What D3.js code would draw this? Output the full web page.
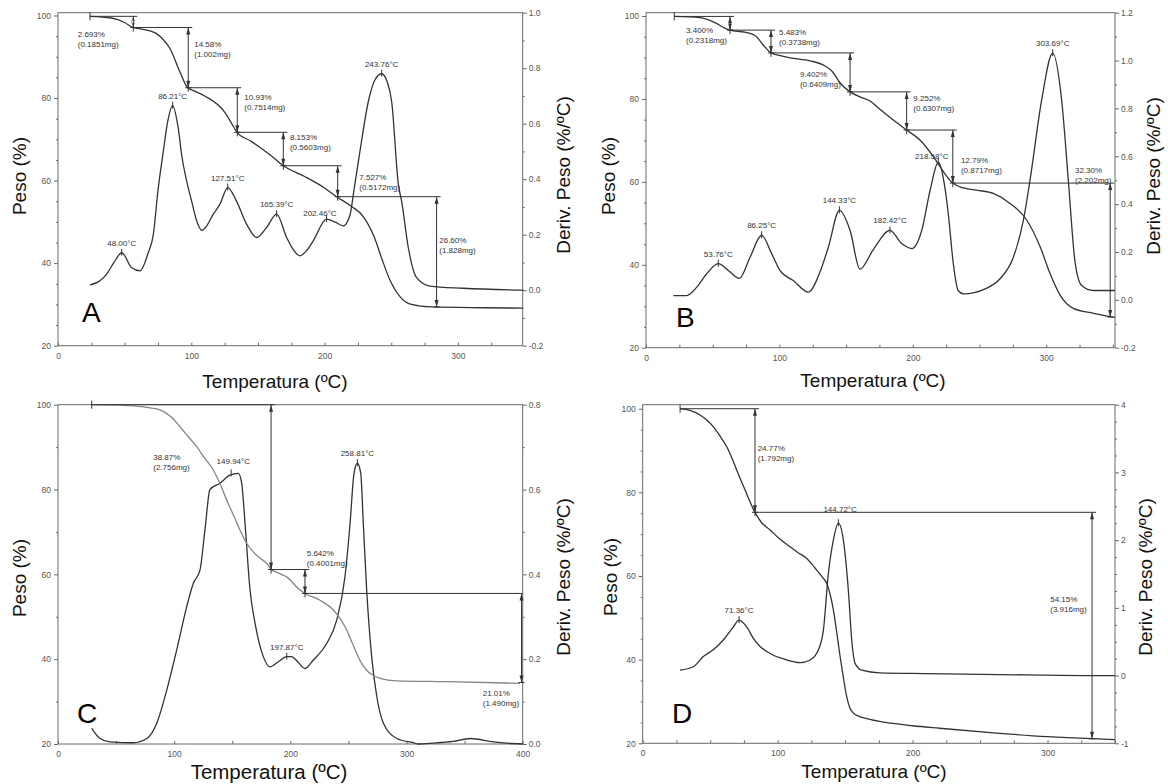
<!DOCTYPE html>
<html>
<head>
<meta charset="utf-8">
<script src="https://cdn.jsdelivr.net/npm/d3@7"></script>
<style>
  body { margin: 0; background: #fff; }
  svg text { font-family: "Liberation Sans", Arial, sans-serif; }
</style>
</head>
<body>
<svg id="chart" width="1168" height="784"></svg>
<script>
// ---- data (temperature ºC, weight %, deriv %/ºC) ----

// A
const tgaA = [[24,99.8],[40,99.4],[50,98.3],[56,97.1],[61,96.8],[69,96.3],[73,95.8],[78,94.5],[84,92],[91.5,86.3],[97,82.6],[103,81.6],[110,80.5],[125,76.6],[130,74],[134,71.8],[145,69.5],[160,66],[169,63.6],[185,61],[200,58.2],[209,56.1],[220,53.8],[229,51.3],[237,46.5],[243,41],[249,35.9],[256.5,31.9],[265,30],[280,29.4],[320,29.2],[349,29.1]];
const dtgA = [[24,0.019],[31.5,0.034],[36.5,0.058],[42,0.1],[47.8,0.135],[55.3,0.081],[61.5,0.07],[67.7,0.135],[71.5,0.2],[75,0.36],[79,0.5],[82,0.6],[86,0.665],[90,0.59],[93,0.48],[96.5,0.394],[100.3,0.32],[104,0.25],[107.8,0.216],[112,0.235],[116.5,0.274],[121.5,0.31],[127.3,0.37],[134,0.32],[141.5,0.238],[149,0.19],[156.5,0.226],[164,0.274],[171.5,0.19],[176,0.15],[181.5,0.124],[186,0.14],[191.5,0.178],[201.5,0.256],[208,0.245],[214,0.232],[219,0.27],[222,0.36],[226.5,0.5],[232.8,0.68],[238,0.76],[242.8,0.78],[247,0.75],[250.3,0.68],[255.3,0.382],[257.8,0.32],[262.8,0.153],[269,0.045],[279,0.015],[304,0.007],[349,0.0]];
const stepsA = [
  [24, 56.5, 99.8, 97.1, '2.693%', '(0.1851mg)', 14.8, 94.8],
  [56.5, 97.7, 97.1, 82.5, '14.58%', '(1.002mg)', 102.2, 92.3],
  [97.7, 134.5, 82.5, 71.7, '10.93%', '(0.7514mg)', 139.8, 79.6],
  [134.5, 169, 71.7, 63.6, '8.153%', '(0.5603mg)', 174, 69.9],
  [169, 209.8, 63.6, 56.1, '7.527%', '(0.5172mg)', 226, 60.2],
  [209.8, 284, 56.1, 29.4, '26.60%', '(1.828mg)', 286, 44.9]
];
const peaksA = [[47.8,0.135,'48.00°C'],[86,0.665,'86.21°C'],[127.3,0.37,'127.51°C'],[164,0.274,'165.39°C'],[201.5,0.256,'202.46°C',196.5,0.267],[242.8,0.78,'243.76°C']];

// B
const tgaB = [[21.2,99.9],[40.5,99.6],[51.7,98.4],[59,97.1],[63,96.6],[74,96.1],[81.7,95.3],[89,92.6],[93.7,91.1],[100,90.5],[108,89.9],[123,89.2],[134,88],[140,86.5],[145.4,83.9],[153,81.7],[160.4,80.5],[168,79.5],[175.4,77.5],[185.4,74.9],[195.4,72.5],[205.4,70.1],[215.4,66.1],[220.4,63.7],[225,61.5],[230,59.7],[235.4,58.8],[248,58],[260.4,57.2],[272.9,54.8],[285.4,50.8],[295.4,44.4],[302.9,37.9],[310.4,32.7],[320.4,29.5],[335.4,28.3],[351.6,27.3]];
const dtgB = [[20.5,0.018],[30.5,0.018],[38,0.053],[45.5,0.109],[54.2,0.151],[61.7,0.123],[70,0.09],[78,0.178],[86.7,0.27],[94.2,0.193],[100.4,0.123],[110.4,0.081],[121.7,0.032],[130.4,0.116],[136.7,0.22],[145,0.374],[153,0.29],[160.4,0.128],[170.4,0.21],[182.9,0.29],[191.7,0.235],[199.2,0.214],[206.7,0.29],[213,0.458],[219.1,0.575],[224,0.472],[226.6,0.36],[230.4,0.151],[234,0.039],[238,0.025],[254.3,0.046],[265.4,0.088],[275.4,0.178],[282.9,0.332],[287.9,0.5],[296.6,0.835],[304.9,1.031],[311.6,0.835],[316.6,0.5],[321.6,0.16],[326.6,0.06],[335.4,0.039],[351.6,0.039]];
const stepsB = [
  [21.2, 63, 99.9, 96.6, '3.400%', '(0.2318mg)', 30, 95.9],
  [63, 93.7, 96.6, 91.1, '5.483%', '(0.3738mg)', 99.7, 95.35],
  [93.7, 153, 91.1, 81.7, '9.402%', '(0.6409mg)', 115.4, 85.3],
  [153, 195.4, 81.7, 72.5, '9.252%', '(0.6307mg)', 200.4, 79.4],
  [195.4, 230, 72.5, 59.7, '12.79%', '(0.8717mg)', 236.1, 64.5],
  [230, 348, 59.7, 27.4, '32.30%', '(2.202mg)', 321.6, 62.1]
];
const peaksB = [[54.2,0.151,'53.76°C'],[86.7,0.27,'86.25°C'],[145,0.374,'144.33°C'],[182.9,0.29,'182.42°C'],[219.1,0.575,'218.58°C',214.2,0.588],[304.9,1.031,'303.69°C']];

// C
const tgaC = [[29,100],[50,99.9],[64.8,99.7],[78,99.3],[87.8,98.8],[97,97.2],[105,94.8],[112,92.5],[119.4,90.1],[126,87.5],[133.7,84.6],[140,81],[145.2,77.5],[151,74],[156.7,70.4],[162,67.5],[168.1,65.3],[174,63.8],[179.6,62.6],[183.4,61.2],[190,60.3],[196.8,59.4],[208.3,56.3],[212.6,55.5],[225.5,53.9],[237,51.6],[243,49.5],[248.5,46.9],[253,44],[257.1,41.4],[261,39.2],[265.7,37.4],[271,36.2],[277.2,35.5],[291.5,34.9],[334.6,34.7],[397.7,34.3]];
const dtgC = [[29,0.037],[36.2,0.013],[44.8,0.005],[64.8,0.003],[76.4,0.013],[85,0.049],[93.6,0.127],[102.2,0.222],[110.8,0.324],[116.5,0.379],[122.2,0.41],[126.5,0.505],[130.8,0.6],[139.5,0.615],[148,0.634],[155.2,0.638],[158.1,0.615],[161,0.52],[165.3,0.363],[169.6,0.285],[176.7,0.206],[182.5,0.182],[189.6,0.194],[196.9,0.206],[201.1,0.206],[206,0.195],[212.6,0.178],[219.8,0.198],[231.3,0.237],[239.9,0.292],[247,0.394],[251.4,0.52],[254.8,0.638],[257.7,0.662],[260.6,0.638],[262.8,0.52],[265.7,0.363],[270,0.206],[274.4,0.112],[280.1,0.049],[291.6,0.013],[305.9,0.003],[310,0.0],[323,0.002],[340,0.006],[354.7,0.013],[374.8,0.005],[386,0.002],[400,0.0]];
const stepsC = [
  [29, 183.4, 100, 61.13, '38.87%', '(2.756mg)', 82, 87.0],
  [183.4, 212.6, 61.13, 55.5, '5.642%', '(0.4001mg)', 214.1, 64.25],
  [212.6, 399, 55.5, 34.5, '21.01%', '(1.490mg)', 365.6, 31.2]
];
const peaksC = [[149,0.638,'149.94°C',150.9,0.66],[196.9,0.206,'197.87°C'],[257.7,0.662,'258.81°C']];

// D
const tgaD = [[27.7,100],[35,99.6],[42.5,98.5],[47,97.4],[52.3,95.7],[57,93.6],[62.3,90.9],[66,88.3],[69.7,85.3],[75.8,80.6],[83.2,75.2],[88,72.8],[94.4,71],[101,69],[109.2,67],[115,65.6],[121.6,64.2],[126,62.6],[129,61.4],[133,59.8],[136.4,58.2],[139,55.5],[141.3,51.9],[143.8,46.5],[146.3,40.7],[148.8,35.5],[151.2,31.1],[153.5,28.5],[156.2,27.2],[160,26.5],[166,25.9],[180,25],[200,24.2],[220,23.6],[260,22.5],[300,21.6],[333,21.1],[350,20.9]];
const dtgD = [[27.7,0.08],[37.5,0.13],[44.9,0.28],[52.3,0.38],[59.7,0.525],[67.2,0.72],[71.4,0.82],[77.1,0.72],[82,0.55],[87,0.43],[96.8,0.3],[104,0.25],[111.6,0.205],[116.6,0.19],[124,0.23],[128,0.3],[130.2,0.38],[133.9,0.67],[137.6,1.51],[141.3,2.0],[145,2.25],[148.7,2.0],[152.4,1.26],[154.9,0.525],[157.4,0.18],[162.3,0.08],[176,0.04],[210.5,0.03],[284.7,0.01],[334,0.0],[350,0.0]];
const stepsD = [
  [27.7, 83.2, 100, 75.23, '24.77%', '(1.792mg)', 85.2, 89.8],
  [83.2, 333, 75.23, 21.08, '54.15%', '(3.916mg)', 302, 53.7]
];
const peaksD = [[71.4,0.82,'71.36°C'],[145,2.25,'144.72°C',146.3,2.41]];

// ---- panel layout ----
const panels = [
  { letter: 'A', box: [58, 522.7, 12.7, 345.7], xDomain: [0, 348.6], wDomain: [20, 100.68], dDomain: [-0.2, 1.0],
    xMinor: 25, wMinor: 5, dMajor: 0.2, dMinor: 0.1, dec: 1, tga: tgaA, dtg: dtgA, steps: stepsA, peaks: peaksA,
    letterPos: [82, 322], wTitle: [26, 176], dTitle: [570, 175], tTitle: [275, 388], tSize: 19 },
  { letter: 'B', box: [646, 1115, 12.7, 347.7], xDomain: [0, 351.6], wDomain: [20, 100.8], dDomain: [-0.2, 1.2],
    xMinor: 25, wMinor: 5, dMajor: 0.2, dMinor: 0.1, dec: 1, tga: tgaB, dtg: dtgB, steps: stepsB, peaks: peaksB,
    letterPos: [676, 327], wTitle: [615, 176], dTitle: [1160, 176], tTitle: [873, 387], tSize: 19 },
  { letter: 'C', box: [58, 522.7, 404.7, 744], xDomain: [0, 400], wDomain: [20, 100], dDomain: [0, 0.8],
    xMinor: 50, wMinor: 10, dMajor: 0.2, dMinor: 0.1, dec: 1, tga: tgaC, dtg: dtgC, steps: stepsC, peaks: peaksC,
    letterPos: [77, 723], wTitle: [26, 578], dTitle: [570, 577], tTitle: [269, 779], tSize: 20.5, tgaColor: '#858585' },
  { letter: 'D', box: [642.7, 1115, 404.7, 743.3], xDomain: [0, 350], wDomain: [20, 100.96], dDomain: [-1, 4],
    xMinor: 25, wMinor: 5, dMajor: 1, dMinor: 0.25, dec: 0, tga: tgaD, dtg: dtgD, steps: stepsD, peaks: peaksD,
    letterPos: [672, 723], wTitle: [617, 577], dTitle: [1152, 577], tTitle: [874, 778], tSize: 19 }
];

const svg = d3.select('#chart');
const INK = '#333';

// multiples of step between a and b, without float drift
function multiples(a, b, step) {
  const i0 = Math.ceil(a / step - 1e-6), i1 = Math.floor(b / step + 1e-6);
  return d3.range(i0, i1 + 1).map(i => +(i * step).toFixed(6));
}

function styleAxis(sel, fs) {
  sel.select('.domain').remove();
  sel.selectAll('.tick line').attr('stroke', '#6a6a6a');
  sel.selectAll('.tick text').attr('fill', '#555').style('font-size', fs + 'px');
}

function drawPanel(p) {
  const [x0, x1, y0, y1] = p.box;
  const g = svg.append('g');
  const x = d3.scaleLinear().domain(p.xDomain).range([x0, x1]);
  const yW = d3.scaleLinear().domain(p.wDomain).range([y1, y0]);
  const yD = d3.scaleLinear().domain(p.dDomain).range([y1, y0]);

  // axes: major + minor ticks
  const wMajor = multiples(20, p.wDomain[1], 20);
  const wMinor = multiples(20, p.wDomain[1], p.wMinor).filter(v => !wMajor.includes(v));
  g.append('g').attr('transform', `translate(${x0},0)`)
    .call(d3.axisLeft(yW).tickValues(wMajor).tickSize(4).tickPadding(3).tickFormat(d3.format('d')))
    .call(s => styleAxis(s, 8.5));
  g.append('g').attr('transform', `translate(${x0},0)`)
    .call(d3.axisLeft(yW).tickValues(wMinor).tickSize(2).tickFormat(''))
    .call(s => styleAxis(s, 8.5));

  const dMajor = multiples(p.dDomain[0], p.dDomain[1], p.dMajor);
  const dMinor = multiples(p.dDomain[0], p.dDomain[1], p.dMinor).filter(v => !dMajor.some(m => Math.abs(m - v) < 1e-6));
  g.append('g').attr('transform', `translate(${x1},0)`)
    .call(d3.axisRight(yD).tickValues(dMajor).tickSize(4).tickPadding(2).tickFormat(d => (+d).toFixed(p.dec)))
    .call(s => styleAxis(s, 8.5));
  g.append('g').attr('transform', `translate(${x1},0)`)
    .call(d3.axisRight(yD).tickValues(dMinor).tickSize(2).tickFormat(''))
    .call(s => styleAxis(s, 8.5));

  const xMajor = multiples(0, p.xDomain[1], 100);
  const xMinor = multiples(0, p.xDomain[1], p.xMinor).filter(v => !xMajor.includes(v));
  g.append('g').attr('transform', `translate(0,${y1})`)
    .call(d3.axisBottom(x).tickValues(xMajor).tickSize(0).tickPadding(7).tickFormat(d3.format('d')))
    .call(s => styleAxis(s, 8.5));
  g.append('g').attr('transform', `translate(0,${y1})`)
    .call(d3.axisTop(x).tickValues(xMajor.concat(xMinor)).tickSize(3).tickFormat(''))
    .call(s => styleAxis(s, 8.5));

  // frame
  g.append('rect').attr('x', x0).attr('y', y0).attr('width', x1 - x0).attr('height', y1 - y0)
    .attr('fill', 'none').attr('stroke', '#6a6a6a').attr('stroke-width', 1);

  // curves
  const lineW = d3.line().x(d => x(d[0])).y(d => yW(d[1])).curve(d3.curveMonotoneX);
  const lineD = d3.line().x(d => x(d[0])).y(d => yD(d[1])).curve(d3.curveMonotoneX);
  g.append('path').attr('d', lineD(p.dtg)).attr('fill', 'none').attr('stroke', INK).attr('stroke-width', 1.3);
  g.append('path').attr('d', lineW(p.tga)).attr('fill', 'none').attr('stroke', p.tgaColor || INK).attr('stroke-width', 1.3);

  // weight-loss steps: horizontal level, double arrow, label
  const ann = g.append('g').attr('stroke', INK).attr('stroke-width', 1);
  p.steps.forEach(s => {
    const [t0, t1, w0, w1, l1, l2, lt, lw] = s;
    const xa = x(t0), xb = x(t1), ya = yW(w0), yb = yW(w1);
    ann.append('line').attr('x1', xa).attr('x2', Math.min(xb + 4, x1)).attr('y1', ya).attr('y2', ya);
    ann.append('line').attr('x1', xa).attr('x2', xa).attr('y1', ya - 4).attr('y2', ya + 4);
    ann.append('line').attr('x1', xb).attr('x2', xb).attr('y1', ya).attr('y2', yb);
    ann.append('line').attr('x1', xb - 3).attr('x2', xb + 3).attr('y1', yb).attr('y2', yb);
    ann.append('path').attr('fill', INK).attr('stroke', 'none')
      .attr('d', `M${xb},${ya} L${xb - 2},${ya + 7} L${xb + 2},${ya + 7} Z M${xb},${yb} L${xb - 2},${yb - 7} L${xb + 2},${yb - 7} Z`);
    const tx = g.append('text').attr('x', x(lt)).attr('y', yW(lw)).attr('fill', INK).style('font-size', '8px');
    tx.append('tspan').attr('x', x(lt)).text(l1);
    tx.append('tspan').attr('x', x(lt)).attr('dy', 10).text(l2);
  });

  // DTG peak markers and labels
  p.peaks.forEach(pk => {
    const px = x(pk[0]), py = yD(pk[1]);
    ann.append('line').attr('x1', px).attr('x2', px).attr('y1', py - 4).attr('y2', py + 3);
    const lx = pk.length > 3 ? x(pk[3]) : px;
    const ly = pk.length > 3 ? yD(pk[4]) : py - 7;
    g.append('text').attr('x', lx).attr('y', ly).attr('text-anchor', 'middle')
      .attr('fill', INK).style('font-size', '8px').text(pk[2]);
  });

  // titles
  g.append('text').attr('transform', `translate(${p.wTitle[0]},${p.wTitle[1]}) rotate(-90)`)
    .attr('text-anchor', 'middle').attr('fill', '#111').style('font-size', '19px').text('Peso (%)');
  g.append('text').attr('transform', `translate(${p.dTitle[0]},${p.dTitle[1]}) rotate(-90)`)
    .attr('text-anchor', 'middle').attr('fill', '#111').style('font-size', '19px').text('Deriv. Peso (%/ºC)');
  g.append('text').attr('x', p.tTitle[0]).attr('y', p.tTitle[1]).attr('text-anchor', 'middle')
    .attr('fill', '#111').style('font-size', p.tSize + 'px').text('Temperatura (ºC)');
  g.append('text').attr('x', p.letterPos[0]).attr('y', p.letterPos[1])
    .attr('fill', '#000').style('font-size', '28px').text(p.letter);
}

panels.forEach(drawPanel);
</script>
</body>
</html>
